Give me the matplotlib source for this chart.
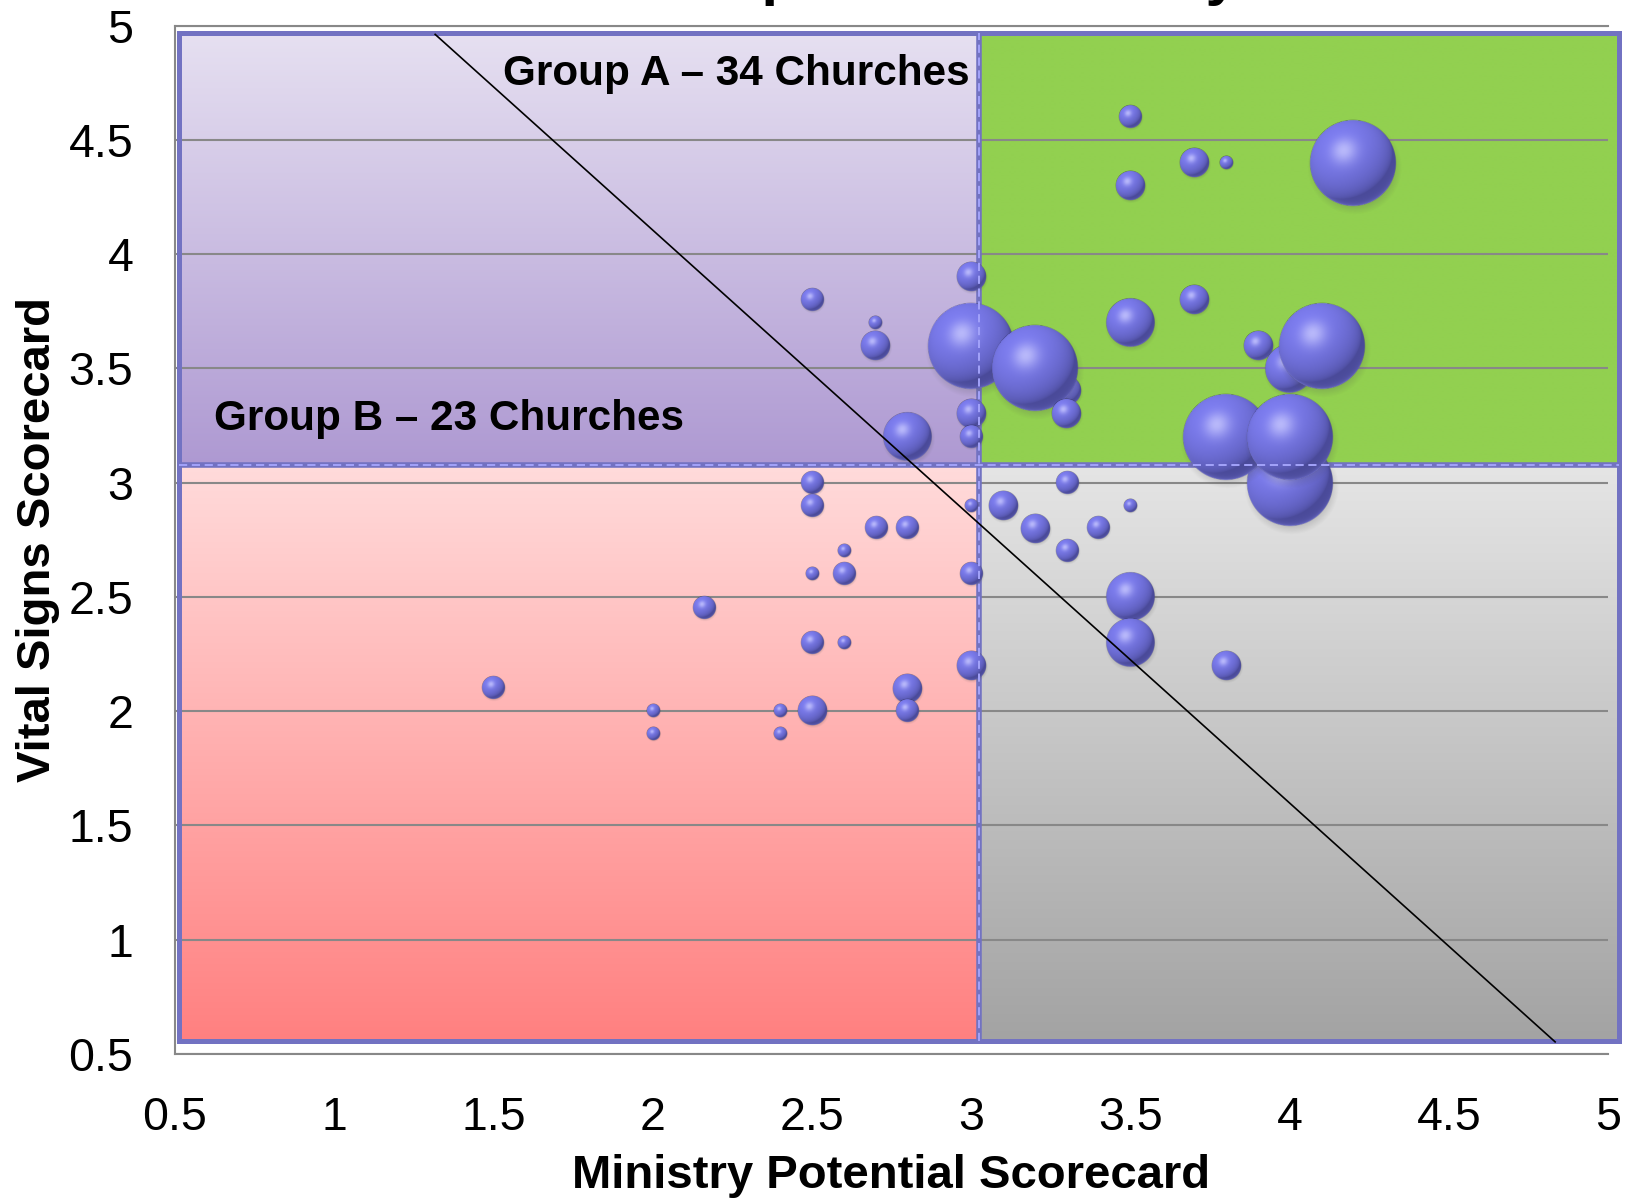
import numpy as np
import matplotlib.pyplot as plt
from matplotlib.offsetbox import OffsetImage, AnnotationBbox
from matplotlib.patches import Rectangle

plt.rcParams['font.family'] = ['Liberation Sans', 'DejaVu Sans']

# Ministry potential score, vital signs score and relative church size
ministry = [3.5, 3.7, 3.8, 4.2, 3.5, 3.7, 3.5, 3.9, 4.0, 4.1,
            4.0, 3.8, 4.0, 3.0, 3.3, 3.2, 3.3, 3.0, 3.0, 3.0,
            2.5, 2.7, 2.7, 2.8,
            3.3, 3.1, 3.5, 3.2, 3.4, 3.3, 3.5, 3.5, 3.8,
            2.5, 2.5, 3.0, 2.7, 2.8, 2.6, 2.5, 2.6, 3.0, 2.16,
            2.5, 2.6, 3.0, 1.5, 2.8, 2.0, 2.4, 2.5, 2.8, 2.0, 2.4]
vital = [4.6, 4.4, 4.4, 4.4, 4.3, 3.8, 3.7, 3.6, 3.5, 3.6,
         3.0, 3.2, 3.2, 3.6, 3.4, 3.5, 3.3, 3.9, 3.3, 3.2,
         3.8, 3.7, 3.6, 3.2,
         3.0, 2.9, 2.9, 2.8, 2.8, 2.7, 2.5, 2.3, 2.2,
         3.0, 2.9, 2.9, 2.8, 2.8, 2.7, 2.6, 2.6, 2.6, 2.45,
         2.3, 2.3, 2.2, 2.1, 2.1, 2.0, 2.0, 2.0, 2.0, 1.9, 1.9]
size = [3, 5, 1, 44, 5, 5, 14, 5, 14, 44,
        44, 44, 44, 44, 5, 44, 5, 5, 5, 3,
        3, 1, 5, 14,
        3, 5, 1, 5, 3, 3, 14, 14, 5,
        3, 3, 1, 3, 3, 1, 1, 3, 3, 3,
        3, 1, 5, 3, 5, 1, 1, 5, 3, 1, 1]

ticks = [0.5, 1, 1.5, 2, 2.5, 3, 3.5, 4, 4.5, 5]
tick_labels = ['0.5', '1', '1.5', '2', '2.5', '3', '3.5', '4', '4.5', '5']

# quadrant frame, split lines and dividing trend line
frame_x = (0.513, 5.035)
frame_y = (0.557, 4.966)
split_x = 3.025
split_y = 3.076
trend_x = [1.317, 4.834]
trend_y = [4.962, 0.553]


def sphere_texture(n=180):
    t = np.linspace(-1.25, 1.25, n)
    u, v = np.meshgrid(t, -t)
    r = np.hypot(u, v)
    px = n / 2.5
    a_sph = np.clip((1 - r) * px + 0.5, 0, 1)
    z = np.sqrt(np.clip(1 - r ** 2, 0, 1))
    L = np.array([-0.4, 0.55, 0.73])
    L /= np.linalg.norm(L)
    H = L + np.array([0, 0, 1.0])
    H /= np.linalg.norm(H)
    ndl = np.clip(u * L[0] + v * L[1] + z * L[2], 0, 1)
    ndh = np.clip(u * H[0] + v * H[1] + z * H[2], 0, 1)
    dark = np.array([0.29, 0.29, 0.60])
    mid = np.array([0.49, 0.49, 0.94])
    light = np.array([0.80, 0.80, 1.0])
    rgb = dark + (mid - dark) * (ndl ** 0.6)[..., None]
    spec = (ndh ** 22 * 0.75)[..., None]
    rgb = rgb + (light - rgb) * spec
    rim = (np.clip(-v * 1.3, 0, 1) * (1 - z) ** 4 * 0.7)[..., None]
    rgb = rgb + (np.array([0.58, 0.58, 1.0]) - rgb) * rim
    # soft drop shadow under the sphere
    rs = np.hypot(u - 0.04, v + 0.1)
    a_sh = 0.25 * np.clip((1.1 - rs) / 0.25, 0, 1)
    sh_rgb = np.array([0.3, 0.3, 0.3])
    a = a_sph + a_sh * (1 - a_sph)
    out = (rgb * a_sph[..., None] + sh_rgb * (a_sh * (1 - a_sph))[..., None])
    out = out / np.maximum(a, 1e-6)[..., None]
    return np.dstack([np.clip(out, 0, 1), a])


def vgrad(top, bottom, n=256):
    c = np.linspace(np.array(bottom) / 255, np.array(top) / 255, n)
    return c[:, None, :]


fig = plt.figure(figsize=(16.33, 11.99), dpi=100)
ax = fig.add_axes([175 / 1633, 145 / 1199, 1433 / 1633, 1028.3 / 1199])

# quadrant backgrounds
quads = [
    ((frame_x[0], split_x, split_y, frame_y[1]), (230, 224, 241), (174, 153, 210)),
    ((split_x, frame_x[1], split_y, frame_y[1]), (146, 208, 80), (146, 208, 80)),
    ((frame_x[0], split_x, frame_y[0], split_y), (255, 219, 219), (255, 128, 128)),
    ((split_x, frame_x[1], frame_y[0], split_y), (229, 229, 229), (163, 163, 163)),
]
for ext, top, bottom in quads:
    im = ax.imshow(vgrad(top, bottom), extent=ext, origin='lower',
                   aspect='auto', interpolation='bilinear', zorder=0)
    im.set_clip_on(False)

border = '#7272C2'
ax.add_patch(Rectangle((frame_x[0], frame_y[0]), frame_x[1] - frame_x[0],
                       frame_y[1] - frame_y[0], fill=False, ec=border,
                       lw=3.6, zorder=1.6, clip_on=False))
ax.plot([split_x, split_x], frame_y, color=border, lw=4, zorder=1.6,
        clip_on=False, solid_capstyle='butt')
ax.plot(frame_x, [split_y, split_y], color=border, lw=4, zorder=1.6,
        clip_on=False, solid_capstyle='butt')

ax.set_xlim(0.5, 5)
ax.set_ylim(0.5, 5)
ax.set_xticks(ticks)
ax.set_xticklabels(tick_labels)
ax.set_yticks(ticks)
ax.set_yticklabels(tick_labels)
ax.tick_params(axis='both', length=0, labelsize=33.5, pad=30)
ax.set_axisbelow('line')
ax.yaxis.grid(True, color='#888888', lw=1.5)
ax.xaxis.grid(False)
for side in ['left', 'bottom', 'top']:
    ax.spines[side].set_color('#888888')
    ax.spines[side].set_linewidth(1.5)
ax.spines['right'].set_visible(False)

# bubbles, area proportional to size
tex = sphere_texture()
for xv, yv, s in zip(ministry, vital, size):
    d_px = 13 * np.sqrt(s)
    oi = OffsetImage(tex, zoom=d_px / (0.8 * tex.shape[0]), dpi_cor=False,
                     interpolation='antialiased', resample=True)
    ab = AnnotationBbox(oi, (xv, yv), xycoords='data', frameon=False,
                        pad=0, box_alignment=(0.5, 0.5), zorder=3)
    ax.add_artist(ab)

# dashed highlight on the split lines
dash = '#A3A3FA'
ax.plot([split_x, split_x], frame_y, color=dash, lw=1.4, zorder=4,
        clip_on=False, linestyle=(0, (4.2, 2.4)))
ax.plot(frame_x, [split_y, split_y], color=dash, lw=1.4, zorder=4,
        clip_on=False, linestyle=(0, (4.2, 2.4)))

ax.plot(trend_x, trend_y, color='black', lw=1.2, zorder=5, clip_on=False)

ax.text(1.530, 4.740, 'Group A \u2013 34 Churches', fontsize=30.4,
        fontweight='bold', ha='left', va='baseline', zorder=6)
ax.text(0.624, 3.231, 'Group B \u2013 23 Churches', fontsize=30.4,
        fontweight='bold', ha='left', va='baseline', zorder=6)

fig.text(891.5 / 1633, 11 / 1199, 'Ministry Potential Scorecard',
         fontsize=34, fontweight='bold', ha='center', va='baseline')
fig.text(50 / 1633, 660 / 1199, 'Vital Signs Scorecard', fontsize=34,
         fontweight='bold', ha='center', va='baseline', rotation=90,
         rotation_mode='anchor')
fig.text(821 / 1633, 1.0047, 'Church Comparison \u2013 Vitality',
         fontsize=43, fontweight='bold', ha='center', va='baseline')

fig.savefig('out.png', dpi=100)
